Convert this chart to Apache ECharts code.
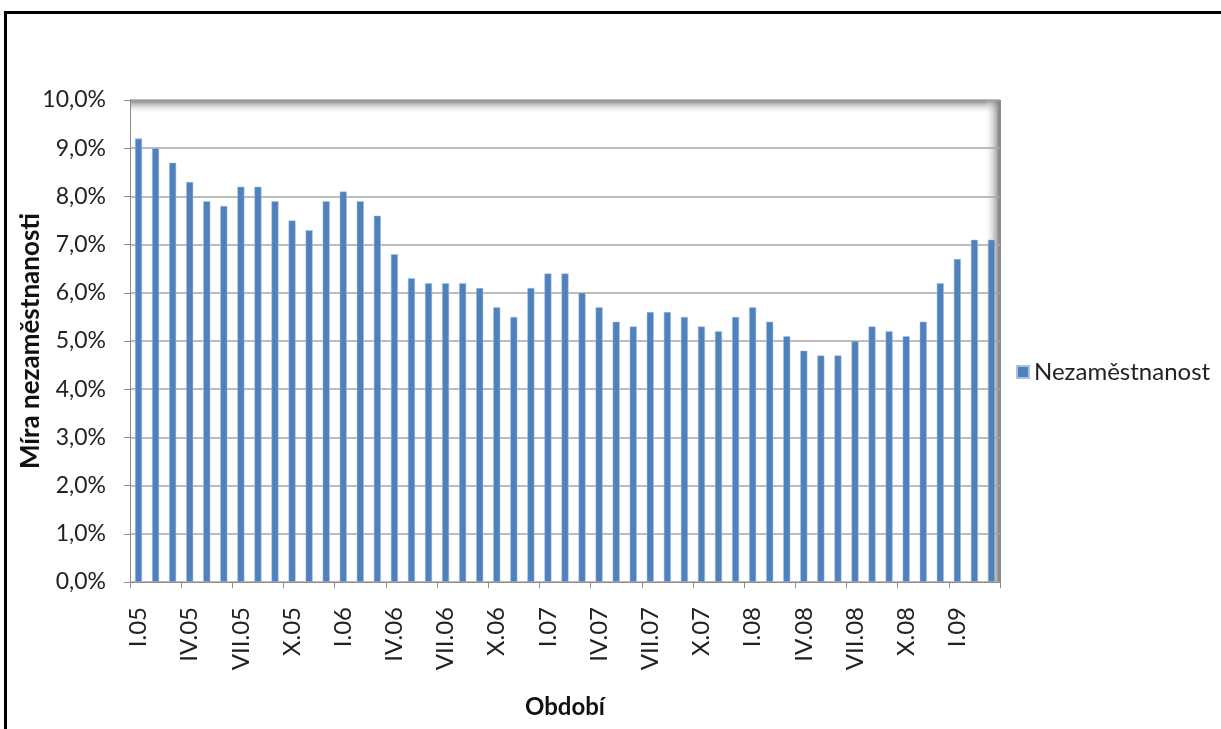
<!DOCTYPE html>
<html>
<head>
<meta charset="utf-8">
<script src="https://cdn.jsdelivr.net/npm/echarts@6/dist/echarts.min.js"></script>
<style>
  html, body { margin: 0; padding: 0; background: #fff; overflow: hidden; }
  #frame { position: absolute; left: 4px; top: 11px; width: 1300px; height: 800px;
           border-left: 3px solid #000; border-top: 3px solid #000; }
  #main { position: absolute; left: 0; top: 0; width: 1221px; height: 729px; }
</style>
</head>
<body>
<div id="frame"></div>
<div id="main"></div>
<script>
// období (měsíce) I.05 - III.09
var months = ['I', 'II', 'III', 'IV', 'V', 'VI', 'VII', 'VIII', 'IX', 'X', 'XI', 'XII'];
var years = ['05', '06', '07', '08', '09'];
var categories = [];
years.forEach(function (y) {
  months.forEach(function (m) { categories.push(m + '.' + y); });
});
categories = categories.slice(0, 51);

// míra nezaměstnanosti v %
var rate = [
  9.2, 9.0, 8.7, 8.3, 7.9, 7.8, 8.2, 8.2, 7.9, 7.5, 7.3, 7.9,
  8.1, 7.9, 7.6, 6.8, 6.3, 6.2, 6.2, 6.2, 6.1, 5.7, 5.5, 6.1,
  6.4, 6.4, 6.0, 5.7, 5.4, 5.3, 5.6, 5.6, 5.5, 5.3, 5.2, 5.5,
  5.7, 5.4, 5.1, 4.8, 4.7, 4.7, 5.0, 5.3, 5.2, 5.1, 5.4, 6.2,
  6.7, 7.1, 7.1
];

var font = 'Lato, "Open Sans", sans-serif';
var chart = echarts.init(document.getElementById('main'));

var option = {
  animation: false,
  backgroundColor: 'transparent',
  grid: { left: 130, right: 221, top: 100, bottom: 147, containLabel: false },
  legend: {
    data: ['Nezaměstnanost'],
    orient: 'vertical',
    left: 1011,
    top: 355,
    icon: 'rect',
    itemWidth: 12,
    itemHeight: 12,
    itemGap: 6,
    textStyle: { fontFamily: font, fontSize: 24, color: '#222' }
  },
  // stín plochy grafu nahoře a vpravo
  graphic: [
    {
      type: 'rect', z: 0, silent: true,
      shape: { x: 130, y: 100, width: 870, height: 14 },
      style: { fill: new echarts.graphic.LinearGradient(0, 0, 0, 1, [
        { offset: 0, color: 'rgba(110,110,110,0.9)' },
        { offset: 1, color: 'rgba(255,255,255,0)' }
      ]) }
    },
    {
      type: 'rect', z: 0, silent: true,
      shape: { x: 984, y: 100, width: 16, height: 482 },
      style: { fill: new echarts.graphic.LinearGradient(1, 0, 0, 0, [
        { offset: 0, color: 'rgba(110,110,110,0.9)' },
        { offset: 1, color: 'rgba(255,255,255,0)' }
      ]) }
    },
    {
      type: 'rect', z: 0, silent: true,
      shape: { x: 998, y: 100, width: 3, height: 482 },
      style: { fill: '#8a8a8a' }
    }
  ],
  xAxis: {
    type: 'category',
    data: categories,
    name: 'Období',
    nameLocation: 'middle',
    nameGap: 113,
    nameMoveOverlap: false,
    nameTextStyle: { fontFamily: font, fontSize: 24, fontWeight: 'bold', color: '#111' },
    axisLine: { lineStyle: { color: '#8c8c8c', width: 1 } },
    axisTick: { show: true, interval: 2, length: 6, lineStyle: { color: '#8c8c8c' } },
    axisLabel: {
      interval: 2, rotate: 90, margin: 25,
      fontFamily: font, fontSize: 24, color: '#222'
    }
  },
  yAxis: {
    type: 'value',
    min: 0,
    max: 10,
    interval: 1,
    name: 'Míra nezaměstnanosti',
    nameLocation: 'middle',
    nameGap: 86,
    nameMoveOverlap: false,
    nameRotate: 90,
    nameTextStyle: { fontFamily: font, fontSize: 26, fontWeight: 'bold', color: '#111' },
    axisLine: { show: true, lineStyle: { color: '#8c8c8c', width: 1 } },
    axisTick: { show: true, length: 6, lineStyle: { color: '#8c8c8c' } },
    splitLine: { lineStyle: { color: '#a6a6a6', width: 1.5 } },
    axisLabel: {
      margin: 24,
      fontFamily: font, fontSize: 23, color: '#222',
      formatter: function (v) { return v.toFixed(1).replace('.', ',') + '%'; }
    }
  },
  series: [{
    name: 'Nezaměstnanost',
    type: 'bar',
    data: rate,
    barWidth: 7,
    itemStyle: { color: '#4f81bd', borderColor: '#a9c0e0', borderWidth: 0.5 },
    z: 3
  }]
};

chart.setOption(option);
</script>
</body>
</html>
